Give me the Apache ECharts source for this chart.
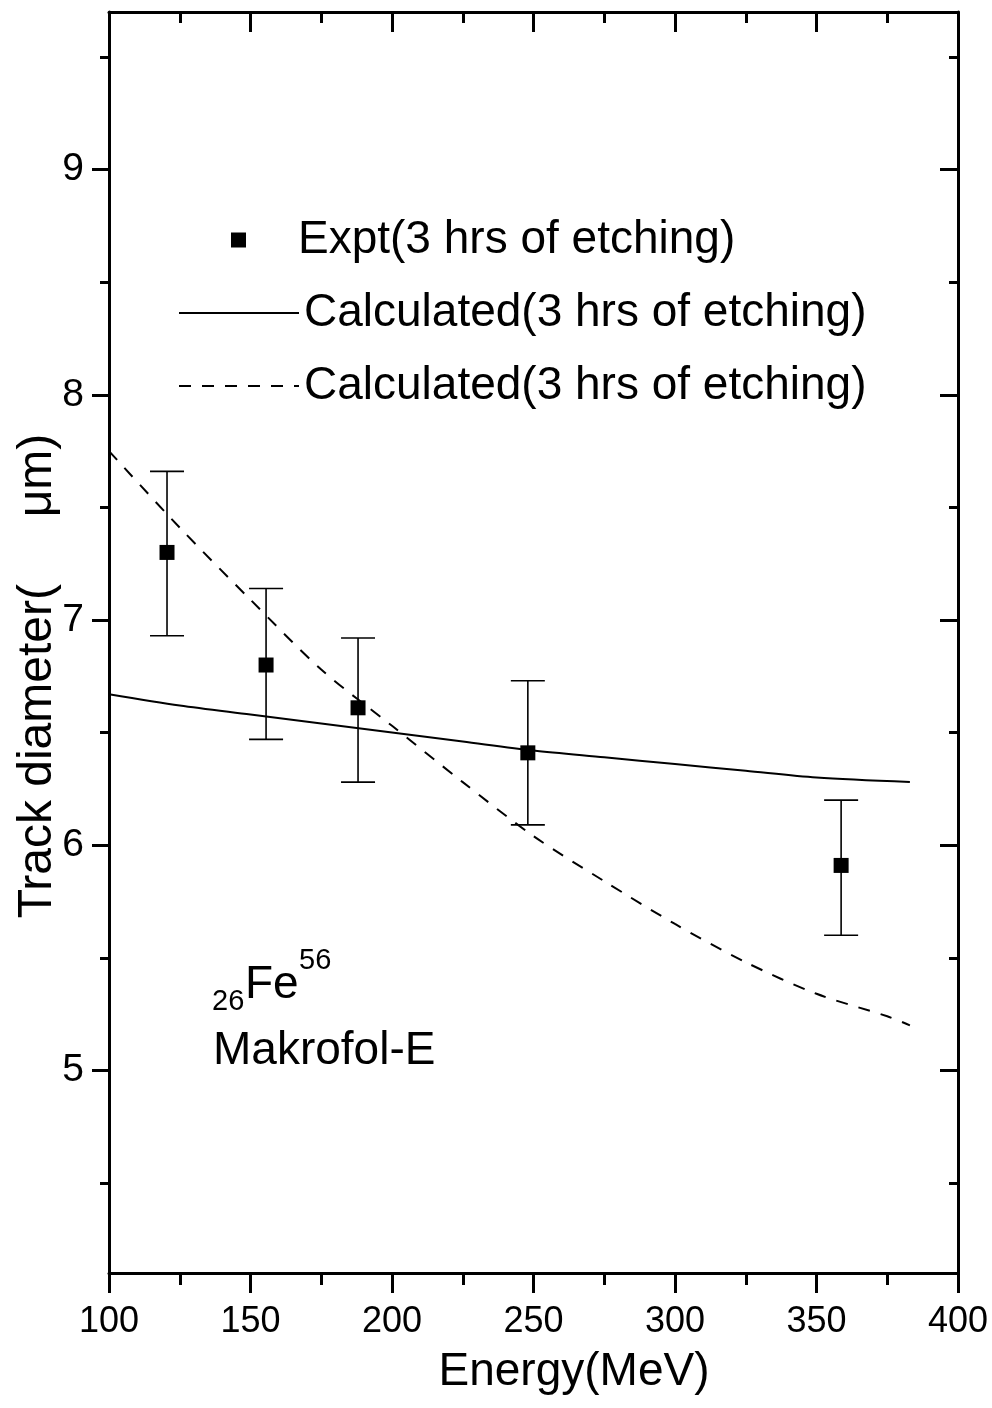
<!DOCTYPE html>
<html>
<head>
<meta charset="utf-8">
<script src="https://cdn.jsdelivr.net/npm/echarts@6/dist/echarts.min.js"></script>
<style>
html,body{margin:0;padding:0;background:#fff;}
#chart{width:992px;height:1408px;}
</style>
</head>
<body>
<div id="chart"></div>
<script>
// ---- data ----
var exptEnergy = [120.5, 155.5, 188, 248, 358.7];
var exptDiameter = [7.30, 6.80, 6.61, 6.41, 5.91];
var exptLow = [6.93, 6.47, 6.28, 6.09, 5.60];
var exptHigh = [7.66, 7.14, 6.92, 6.73, 6.20];

var solidEnergy = [100, 125, 150, 175, 200, 225, 250, 275, 300, 325, 350, 383];
var solidDiameter = [6.67, 6.62, 6.58, 6.54, 6.50, 6.46, 6.42, 6.39, 6.36, 6.33, 6.30, 6.28];

var dashEnergy = [100, 125, 150, 175, 200, 225, 250, 275, 300, 325, 350, 375, 383];
var dashDiameter = [7.75, 7.41, 7.09, 6.78, 6.53, 6.28, 6.04, 5.84, 5.65, 5.48, 5.34, 5.24, 5.20];

var yMajorTicks = [5, 6, 7, 8, 9];
var yMinorTicks = [4.5, 5.5, 6.5, 7.5, 8.5, 9.5];

var legendLabels = ['Expt(3 hrs of etching)', 'Calculated(3 hrs of etching)', 'Calculated(3 hrs of etching)'];
var xTitle = 'Energy(MeV)';
var yTitle = 'Track diameter(     \u03BCm)';

// ---- build ----
function zip(a, b) { return a.map(function (v, i) { return [v, b[i]]; }); }
var FONT = "'Liberation Sans', Arial, sans-serif";

var chart = echarts.init(document.getElementById('chart'), null, { renderer: 'canvas' });

function xAx(pos) {
  var bottom = pos === 'bottom';
  return {
    type: 'value', position: pos, min: 100, max: 400, interval: 50,
    axisLine: { show: true, onZero: false, lineStyle: { color: '#000', width: 3 } },
    axisTick: { show: true, inside: !bottom, length: 20, lineStyle: { color: '#000', width: 3 } },
    minorTick: { show: true, splitNumber: 2, length: bottom ? 12 : 11, lineStyle: { color: '#000', width: 3 } },
    axisLabel: { show: bottom, color: '#000', fontSize: 36, fontFamily: FONT, margin: 31 },
    splitLine: { show: false }, minorSplitLine: { show: false }
  };
}
function yAx(pos, ticks, len, labels, showLine) {
  var left = pos === 'left';
  return {
    type: 'value', position: pos, min: 4.1, max: 9.7,
    axisLine: { show: showLine, onZero: false, lineStyle: { color: '#000', width: 3 } },
    axisTick: { show: true, inside: !left, length: len, customValues: ticks, lineStyle: { color: '#000', width: 3 } },
    axisLabel: { show: labels, customValues: ticks, color: '#000', fontSize: 39, fontFamily: FONT, margin: 25 },
    splitLine: { show: false }
  };
}

var legendText = { color: '#000', fontSize: 46, fontFamily: FONT, lineHeight: 46 };
var legendLine = {
  orient: 'vertical', padding: 0, itemWidth: 120, itemHeight: 2, selectedMode: false,
  itemStyle: { color: 'rgba(0,0,0,0)', opacity: 0, borderWidth: 0 },
  textStyle: legendText
};

var option = {
  backgroundColor: '#fff',
  animation: false,
  grid: { left: 109, right: 34, top: 12, bottom: 135, outerBoundsMode: 'none', containLabel: false },
  xAxis: [xAx('bottom'), xAx('top')],
  yAxis: [
    yAx('left', yMajorTicks, 17, true, true),
    yAx('left', yMinorTicks, 9, false, false),
    yAx('right', yMajorTicks, 18, false, true),
    yAx('right', yMinorTicks, 9, false, false)
  ],
  legend: [
    {
      orient: 'vertical', padding: 0, left: 231, top: 217, itemWidth: 15, itemHeight: 15, selectedMode: false,
      data: [{ name: 'expt', icon: 'rect' }],
      formatter: function () { return legendLabels[0]; },
      textStyle: Object.assign({}, legendText, { padding: [0, 0, 0, 47] })
    },
    Object.assign({}, legendLine, { left: 178, top: 290, data: ['calcSolid'], formatter: function () { return legendLabels[1]; } }),
    Object.assign({}, legendLine, { left: 178, top: 363, data: ['calcDash'], formatter: function () { return legendLabels[2]; } })
  ],
  graphic: [
    { type: 'text', x: 38, y: 676, rotation: Math.PI / 2,
      style: { text: yTitle, fill: '#000', font: '48px ' + FONT, align: 'center', verticalAlign: 'middle' } },
    { type: 'text', x: 574, y: 1372,
      style: { text: xTitle, fill: '#000', font: '46px ' + FONT, align: 'center', verticalAlign: 'middle' } },
    { type: 'text', x: 212, y: 1002,
      style: { text: '26', fill: '#000', font: '29px ' + FONT, align: 'left', verticalAlign: 'middle' } },
    { type: 'text', x: 245, y: 985,
      style: { text: 'Fe', fill: '#000', font: '46px ' + FONT, align: 'left', verticalAlign: 'middle' } },
    { type: 'text', x: 299, y: 961,
      style: { text: '56', fill: '#000', font: '29px ' + FONT, align: 'left', verticalAlign: 'middle' } },
    { type: 'text', x: 213, y: 1051,
      style: { text: 'Makrofol-E', fill: '#000', font: '46px ' + FONT, align: 'left', verticalAlign: 'middle' } }
  ],
  series: [
    {
      name: 'calcSolid', type: 'line', data: zip(solidEnergy, solidDiameter),
      smooth: 0.3, showSymbol: false, symbol: 'none',
      lineStyle: { color: '#000', width: 2 }, itemStyle: { color: '#000' }, z: 2
    },
    {
      name: 'calcDash', type: 'line', data: zip(dashEnergy, dashDiameter),
      smooth: 0.3, showSymbol: false, symbol: 'none',
      lineStyle: { color: '#000', width: 2, type: [12, 11] }, itemStyle: { color: '#000' }, z: 2
    },
    {
      name: 'errorbars', type: 'custom',
      data: exptEnergy.map(function (e, i) { return [e, exptLow[i], exptHigh[i]]; }),
      encode: { x: 0, y: [1, 2] },
      renderItem: function (params, api) {
        var x = api.value(0);
        var lo = api.coord([x, api.value(1)]);
        var hi = api.coord([x, api.value(2)]);
        var hw = 17;
        var st = { stroke: '#000', lineWidth: 1.6 };
        return {
          type: 'group', children: [
            { type: 'line', shape: { x1: hi[0], y1: hi[1], x2: lo[0], y2: lo[1] }, style: st },
            { type: 'line', shape: { x1: hi[0] - hw, y1: hi[1], x2: hi[0] + hw, y2: hi[1] }, style: st },
            { type: 'line', shape: { x1: lo[0] - hw, y1: lo[1], x2: lo[0] + hw, y2: lo[1] }, style: st }
          ]
        };
      },
      z: 3
    },
    {
      name: 'expt', type: 'scatter', data: zip(exptEnergy, exptDiameter),
      symbol: 'rect', symbolSize: 15, itemStyle: { color: '#000', opacity: 1 }, z: 4
    }
  ]
};
chart.setOption(option);
</script>
</body>
</html>
